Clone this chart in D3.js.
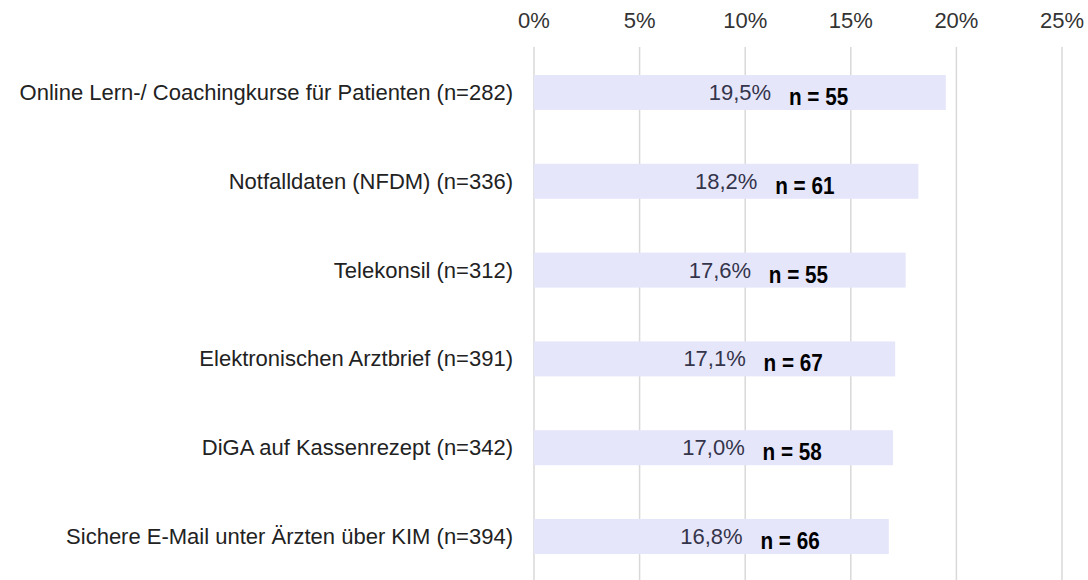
<!DOCTYPE html>
<html>
<head>
<meta charset="utf-8">
<script src="https://cdn.jsdelivr.net/npm/d3@7"></script>
<style>
  body { margin: 0; background: #fff; }
  svg { display: block; }
</style>
</head>
<body>
<div id="chart"></div>
<script>
const width = 1088,
      height = 580;

// data
const categories = [
  "Online Lern-/ Coachingkurse für Patienten (n=282)",
  "Notfalldaten (NFDM) (n=336)",
  "Telekonsil (n=312)",
  "Elektronischen Arztbrief (n=391)",
  "DiGA auf Kassenrezept (n=342)",
  "Sichere E-Mail unter Ärzten über KIM (n=394)"
];
const shares = [19.5, 18.2, 17.6, 17.1, 17.0, 16.8];
const nLabels = ["n = 55", "n = 61", "n = 55", "n = 67", "n = 58", "n = 66"];
const ticks = [0, 5, 10, 15, 20, 25];

const x = d3.scaleLinear()
            .domain([0, 25])
            .range([534, 1062]);

const y = d3.scaleBand()
            .domain(categories)
            .range([48, 581])
            .paddingInner(0.606)
            .paddingOuter(0.304);

const fmt = v => d3.format(".1f")(v).replace(".", ",") + "%";

let svg = d3.select("#chart")
  .append("svg")
    .attr("width", width)
    .attr("height", height)
    .style("font-family", "'Liberation Sans', Arial, sans-serif");

// grid lines
svg.append("g")
  .selectAll("line")
  .data(ticks)
  .join("line")
    .attr("x1", d => x(d))
    .attr("x2", d => x(d))
    .attr("y1", 47)
    .attr("y2", height)
    .attr("stroke", "#d9d9d9")
    .attr("stroke-width", 1.5);

// top axis labels
svg.append("g")
  .selectAll("text")
  .data(ticks)
  .join("text")
    .attr("x", d => x(d))
    .attr("y", 28)
    .attr("text-anchor", "middle")
    .attr("font-size", 22)
    .attr("fill", "#333")
    .text(d => d + "%");

const rows = categories.map((c, i) => ({ cat: c, value: shares[i], n: nLabels[i] }));

// bars
svg.append("g")
  .selectAll("rect")
  .data(rows)
  .join("rect")
    .attr("x", x(0))
    .attr("y", d => y(d.cat))
    .attr("width", d => x(d.value) - x(0))
    .attr("height", y.bandwidth())
    .attr("fill", "#e6e6fa");

// category labels
svg.append("g")
  .selectAll("text")
  .data(rows)
  .join("text")
    .attr("x", 513)
    .attr("y", d => y(d.cat) + y.bandwidth() / 2 + 7.5)
    .attr("text-anchor", "end")
    .attr("font-size", 22)
    .attr("fill", "#222")
    .text(d => d.cat);

// percentage labels, centred in bar
svg.append("g")
  .selectAll("text")
  .data(rows)
  .join("text")
    .attr("x", d => (x(0) + x(d.value)) / 2)
    .attr("y", d => y(d.cat) + y.bandwidth() / 2 + 7.5)
    .attr("text-anchor", "middle")
    .attr("font-size", 22)
    .attr("fill", "#34344a")
    .text(d => fmt(d.value));

// n labels (bold, slightly condensed)
svg.append("g")
  .selectAll("text")
  .data(rows)
  .join("text")
    .attr("transform", d => `translate(${(x(0) + x(d.value)) / 2 + 49},${y(d.cat) + y.bandwidth() / 2 + 12.5}) scale(0.9,1)`)
    .attr("font-weight", "bold")
    .attr("font-size", 23)
    .attr("fill", "#000")
    .text(d => d.n);
</script>
</body>
</html>
